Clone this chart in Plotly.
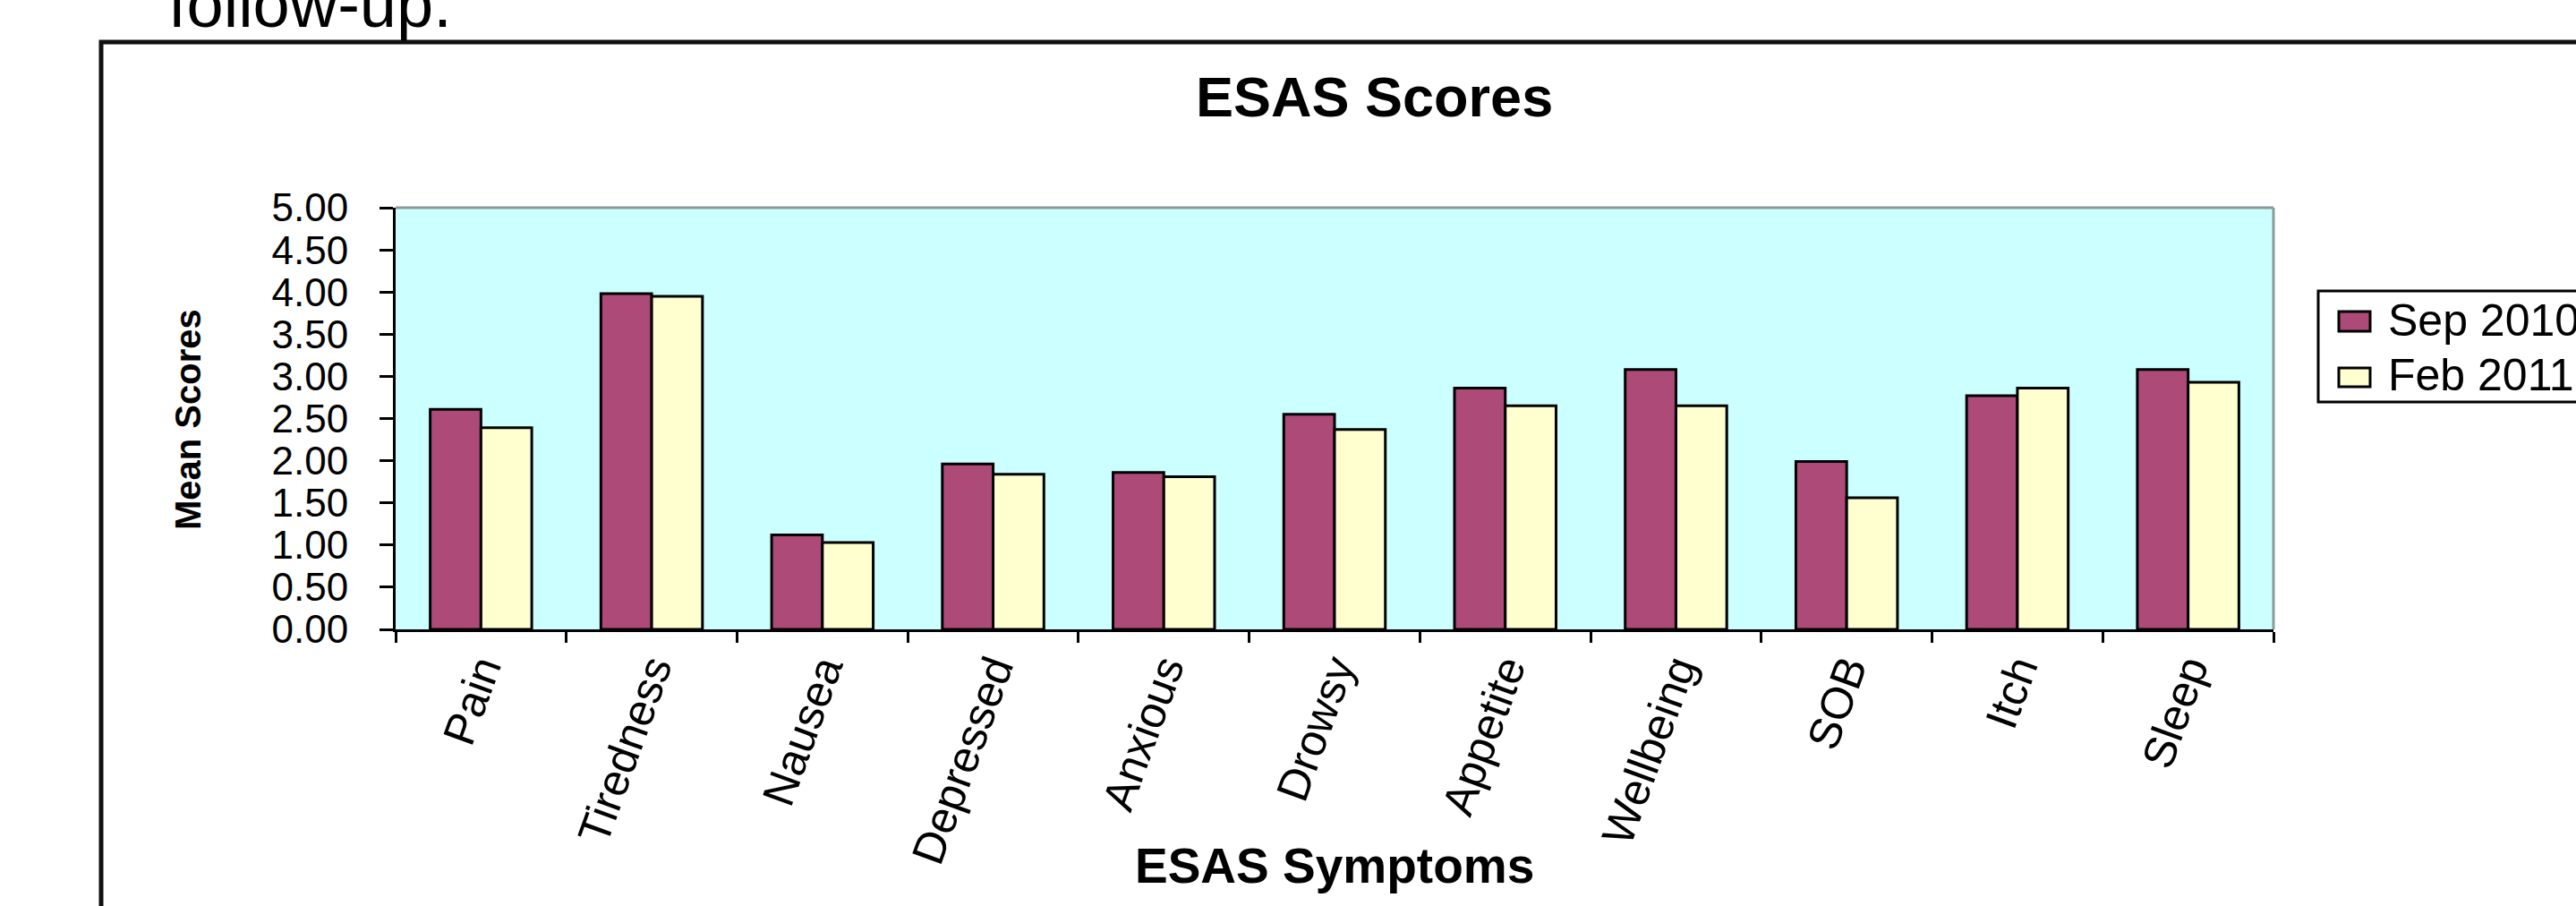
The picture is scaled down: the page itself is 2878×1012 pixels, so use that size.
import plotly.graph_objects as go

categories = ["Pain", "Tiredness", "Nausea", "Depressed", "Anxious", "Drowsy",
              "Appetite", "Wellbeing", "SOB", "Itch", "Sleep"]
sep_values = [2.61, 3.98, 1.12, 1.96, 1.86, 2.55, 2.86, 3.08, 1.99, 2.77, 3.08]
feb_values = [2.39, 3.95, 1.03, 1.84, 1.81, 2.37, 2.65, 2.65, 1.56, 2.86, 2.93]
series_names = ["Sep 2010", "Feb 2011"]
y_ticks = [0, 0.5, 1.0, 1.5, 2.0, 2.5, 3.0, 3.5, 4.0, 4.5, 5.0]

SEP_COLOR = "#AD4A78"
FEB_COLOR = "#FFFFD0"
BG_COLOR = "#CCFFFF"
FONT = "Liberation Sans, Arial, sans-serif"

W, H = 2878, 1012
L, R, T, B = 442, 338, 232, 309
PW, PH = W - L - R, H - T - B


def px(x):
    return (x - L) / PW


def py(y):
    return (H - B - y) / PH


fig = go.Figure()
fig.add_trace(go.Bar(x=categories, y=sep_values, name=series_names[0],
                     marker=dict(color=SEP_COLOR, line=dict(color="black", width=3)),
                     showlegend=False))
fig.add_trace(go.Bar(x=categories, y=feb_values, name=series_names[1],
                     marker=dict(color=FEB_COLOR, line=dict(color="black", width=3)),
                     showlegend=False))

shapes = [
    # outer chart frame
    dict(type="rect", xref="paper", yref="paper", x0=px(113), x1=px(2920), y0=py(47), y1=py(1040),
         line=dict(color="#111111", width=5), fillcolor="rgba(0,0,0,0)", layer="below"),
    # plot area border top/right (gray)
    dict(type="line", xref="paper", yref="paper", x0=0, x1=1, y0=1, y1=1,
         line=dict(color="#8a9a9a", width=3)),
    dict(type="line", xref="paper", yref="paper", x0=1, x1=1, y0=0, y1=1,
         line=dict(color="#8a9a9a", width=3)),
    # legend box
    dict(type="rect", xref="paper", yref="paper", x0=px(2590), x1=px(2920), y0=py(325), y1=py(449),
         line=dict(color="black", width=3), fillcolor="white"),
    # legend symbols
    dict(type="rect", xref="paper", yref="paper", x0=px(2613), x1=px(2648), y0=py(348), y1=py(370),
         line=dict(color="black", width=3), fillcolor=SEP_COLOR),
    dict(type="rect", xref="paper", yref="paper", x0=px(2613), x1=px(2648), y0=py(411), y1=py(432),
         line=dict(color="black", width=3), fillcolor=FEB_COLOR),
]

annotations = [
    dict(text="follow-up.", xref="paper", yref="paper", x=px(186), y=py(48), xanchor="left",
         yanchor="bottom", showarrow=False, font=dict(family=FONT, size=74, color="black")),
    dict(text="<b>ESAS Scores</b>", xref="paper", yref="paper", x=px(1535), y=py(108),
         xanchor="center", yanchor="middle", showarrow=False,
         font=dict(family=FONT, size=63, color="black")),
    dict(text="<b>Mean Scores</b>", xref="paper", yref="paper", x=px(210), y=py(469),
         xanchor="center", yanchor="middle", textangle=-90, showarrow=False,
         font=dict(family=FONT, size=40, color="black")),
    dict(text="<b>ESAS Symptoms</b>", xref="paper", yref="paper", x=0.5, y=py(967),
         xanchor="center", yanchor="middle", showarrow=False,
         font=dict(family=FONT, size=55, color="black")),
    dict(text=series_names[0], xref="paper", yref="paper", x=px(2666), y=py(358),
         xanchor="left", yanchor="middle", showarrow=False,
         font=dict(family=FONT, size=50, color="black")),
    dict(text=series_names[1], xref="paper", yref="paper", x=px(2666), y=py(419),
         xanchor="left", yanchor="middle", showarrow=False,
         font=dict(family=FONT, size=50, color="black")),
]

fig.update_layout(
    width=W, height=H,
    margin=dict(l=L, r=R, t=T, b=B, pad=0),
    paper_bgcolor="white",
    plot_bgcolor=BG_COLOR,
    barmode="group",
    bargap=0.405,
    bargroupgap=0,
    showlegend=False,
    shapes=shapes,
    annotations=annotations,
    xaxis=dict(type="category", tickson="boundaries", ticks="outside", ticklen=12,
               tickwidth=3, tickcolor="black", showline=True, linecolor="black", linewidth=3,
               showgrid=False, tickangle=-70, ticklabelstandoff=-8,
               tickfont=dict(family=FONT, size=50, color="black")),
    yaxis=dict(range=[0, 5], tickvals=y_ticks, tickformat=".2f", ticks="outside", ticklen=15,
               tickwidth=3, tickcolor="black", showline=True, linecolor="black", linewidth=3,
               showgrid=False, zeroline=False, ticklabelstandoff=26,
               tickfont=dict(family=FONT, size=44, color="black")),
)

fig.write_html("out.html")
